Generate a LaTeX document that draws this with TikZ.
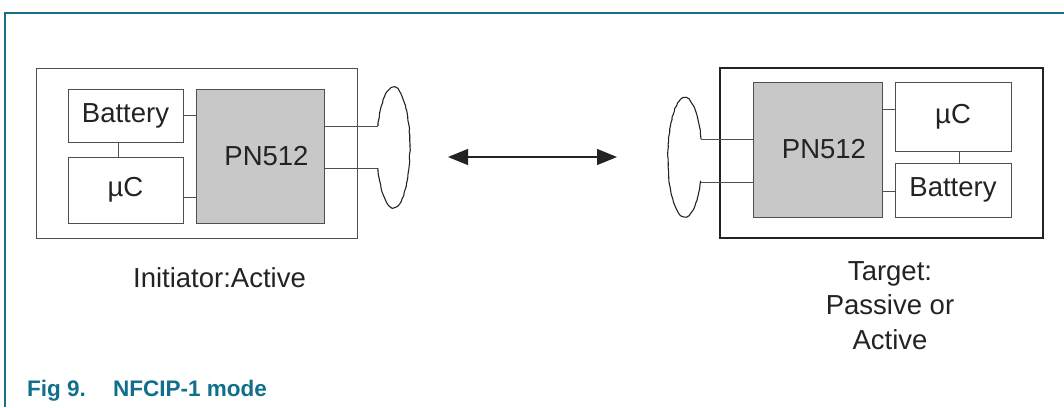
\documentclass[tikz,border=0pt]{standalone}
\usepackage{fontspec}
\setmainfont{Liberation Sans}
\usetikzlibrary{arrows.meta,calc,decorations.pathmorphing}
\definecolor{nxpteal}{RGB}{24,110,134}
\definecolor{captionteal}{RGB}{16,112,140}
\definecolor{chipgray}{RGB}{200,200,200}
\definecolor{ink}{RGB}{35,35,35}
\definecolor{edge}{RGB}{80,80,80}
\tikzset{
  x=1pt, y=1pt,
  frameline/.style={draw=nxpteal, line width=1.3pt},
  outerbox/.style={draw=edge, line width=1pt, inner sep=0pt},
  outerboxthick/.style={draw=ink, line width=2.4pt, inner sep=0pt},
  blockbox/.style={draw=edge, line width=1pt, fill=white, inner sep=0pt, text=ink,
     font=\fontsize{27.5}{33}\selectfont},
  chipbox/.style={draw=edge, line width=1pt, fill=chipgray, inner sep=0pt, text=ink,
     font=\fontsize{27.5}{33}\selectfont},
  wire/.style={draw=edge, line width=1pt},
  loop/.style={draw=ink, line width=1.1pt, decorate,
     decoration={random steps, segment length=3pt, amplitude=0.4pt}},
  linkarrow/.style={draw=ink, line width=1.2pt, {Triangle[length=20pt,width=16pt]}-{Triangle[length=20pt,width=16pt]}},
  labeltext/.style={text=ink, font=\fontsize{27.5}{34.5}\selectfont, inner sep=0pt},
  captiontext/.style={text=captionteal, font=\fontsize{22.5}{27}\selectfont\bfseries, inner sep=0pt}
}
\begin{document}
\begin{tikzpicture}
\useasboundingbox (0,0) rectangle (1064,-407);
% page frame
\draw[frameline] (5,-407) -- (5,-13) -- (1064,-13);

% ---------------- Initiator (left) ----------------
\node[outerbox, minimum width=321pt, minimum height=170pt] (outerL) at (196.5,-153) {};
\node[blockbox, minimum width=115pt, minimum height=53pt] (batL) at (125.5,-115.5) {Battery};
\node[blockbox, minimum width=115pt, minimum height=66pt] (ucL) at (125.5,-190) {µC};
\node[chipbox, minimum width=128pt, minimum height=134pt] (pnL) at (260,-156) {\hspace*{13pt}PN512};
\draw[wire] ([xshift=-7.5pt]batL.south) -- ([xshift=-7.5pt]ucL.north);
\draw[wire] (batL.east) -- (batL.east -| pnL.west);
\draw[wire] ([yshift=-7pt]ucL.east) -- ([yshift=-7pt]ucL.east -| pnL.west);
\coordinate (aL1) at (378,-126);
\coordinate (aL2) at (378,-168);
\draw[wire] (pnL.east |- aL1) -- (aL1);
\draw[wire] (pnL.east |- aL2) -- (aL2);
\draw[loop] (aL1) arc[start angle=159, end angle=-159, x radius=16.5, y radius=60] -- (aL2);

% ---------------- link arrow ----------------
\coordinate (arrL) at (448,-157);
\coordinate (arrR) at (617,-157);
\draw[linkarrow] (arrL) -- (arrR);

% ---------------- Target (right) ----------------
\node[outerboxthick, minimum width=323pt, minimum height=170pt] (outerR) at (881.5,-153) {};
\node[chipbox, minimum width=129pt, minimum height=135pt] (pnR) at (817.5,-149.5) {\hspace*{13pt}PN512};
\node[blockbox, minimum width=116pt, minimum height=69pt] (ucR) at (953,-116.5) {µC};
\node[blockbox, minimum width=116pt, minimum height=54pt] (batR) at (953,-190) {Battery};
\draw[wire] ([xshift=6pt]ucR.south) -- ([xshift=6pt]batR.north);
\draw[wire] ([yshift=7.5pt]ucR.west) -- ([yshift=7.5pt]ucR.west -| pnR.east);
\draw[wire] ([yshift=-1pt]batR.west) -- ([yshift=-1pt]batR.west -| pnR.east);
\coordinate (aR1) at (701,-139);
\coordinate (aR2) at (701,-182);
\draw[wire] (pnR.west |- aR1) -- (aR1);
\draw[wire] (pnR.west |- aR2) -- (aR2);
\draw[loop] (aR1) arc[start angle=18, end angle=336, x radius=17, y radius=59.5] -- (aR2);

% ---------------- labels ----------------
\node[labeltext, anchor=base] (labL) at (219.5,-287) {Initiator:Active};
\node[labeltext, anchor=base, align=center] (labR) at (890,-349) {Target:\\Passive or\\Active};

% caption
\node[captiontext, anchor=base west] (cap) at (27,-396) {\makebox[86pt][l]{Fig 9.}NFCIP-1 mode};
\end{tikzpicture}
\end{document}
